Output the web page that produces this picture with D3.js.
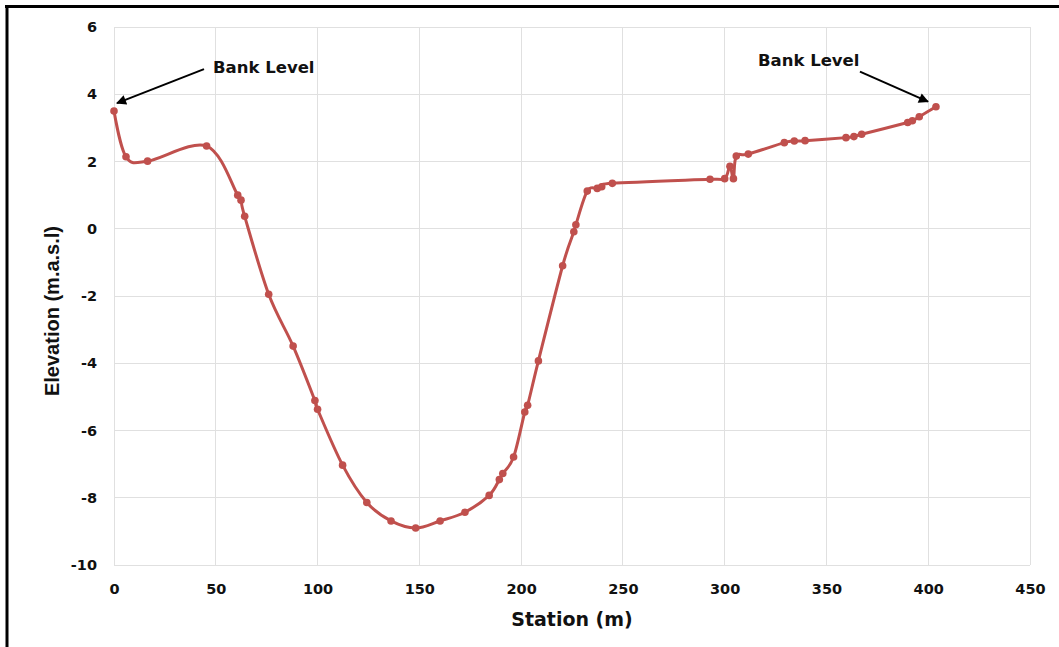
<!DOCTYPE html>
<html>
<head>
<meta charset="utf-8">
<script src="https://cdn.jsdelivr.net/npm/d3@7"></script>
<style>
  html, body { margin: 0; padding: 0; background: #fff; }
  svg { display: block; }
</style>
</head>
<body>
<script>
// ---- data ----
const station = [0, 5.9, 16.5, 45.5, 60.8, 62.4, 64.2, 76.0, 88.0, 98.7, 100.0, 112.3, 124.2, 136.1,
  148.2, 160.2, 172.4, 184.3, 189.3, 191.0, 196.3, 201.8, 203.2, 208.5, 220.4, 225.9, 226.9, 232.5,
  237.4, 239.6, 244.8, 292.8, 300.0, 302.6, 304.3, 305.7, 311.6, 329.3, 334.2, 339.5, 359.6, 363.5,
  367.3, 389.9, 392.2, 395.6, 403.8];
const elevation = [3.5, 2.14, 2.01, 2.46, 1.0, 0.85, 0.37, -1.95, -3.49, -5.11, -5.37, -7.03, -8.14, -8.69,
  -8.9, -8.69, -8.43, -7.93, -7.46, -7.28, -6.79, -5.45, -5.25, -3.93, -1.10, -0.09, 0.12, 1.12,
  1.20, 1.25, 1.35, 1.47, 1.49, 1.86, 1.49, 2.16, 2.22, 2.56, 2.61, 2.62, 2.71, 2.74,
  2.81, 3.16, 3.21, 3.33, 3.63];
const xTicks = [0, 50, 100, 150, 200, 250, 300, 350, 400, 450];
const yTicks = [-10, -8, -6, -4, -2, 0, 2, 4, 6];
const xTitle = "Station (m)";
const yTitle = "Elevation (m.a.s.l)";
const annotationText = ["Bank Level", "Bank Level"];

// ---- layout ----
const W = 1059, H = 647;
const m = { left: 114, top: 27, right: 1030, bottom: 565 };
const red = "#c0504d";

const svg = d3.select("body").append("svg").attr("width", W).attr("height", H);
svg.append("rect").attr("width", W).attr("height", H).attr("fill", "#fff");

const x = d3.scaleLinear().domain([0, 450]).range([m.left, m.right]);
const y = d3.scaleLinear().domain([-10, 6]).range([m.bottom, m.top]);

// gridlines
const grid = svg.append("g");
grid.selectAll("line.v").data(xTicks).enter().append("line")
  .attr("x1", d => x(d)).attr("x2", d => x(d)).attr("y1", m.top).attr("y2", m.bottom)
  .attr("stroke", "#e0e0e0").attr("stroke-width", 1).attr("shape-rendering", "crispEdges");
grid.selectAll("line.h").data(yTicks).enter().append("line")
  .attr("x1", m.left).attr("x2", m.right).attr("y1", d => y(d)).attr("y2", d => y(d))
  .attr("stroke", "#e0e0e0").attr("stroke-width", 1).attr("shape-rendering", "crispEdges");

// axes (labels only)
const tickFont = "'DejaVu Sans', sans-serif";
const xAxis = svg.append("g").attr("transform", `translate(0,${m.bottom})`)
  .call(d3.axisBottom(x).tickValues(xTicks).tickSize(0).tickPadding(19).tickFormat(d3.format("d")));
const yAxis = svg.append("g").attr("transform", `translate(${m.left},0)`)
  .call(d3.axisLeft(y).tickValues(yTicks).tickSize(0).tickPadding(17).tickFormat(d => d < 0 ? "-" + Math.abs(d) : String(d)));
[xAxis, yAxis].forEach(a => {
  a.select(".domain").remove();
  a.selectAll("text").attr("font-family", tickFont).attr("font-weight", "bold")
    .attr("font-size", 14.5).attr("fill", "#111");
});

// titles
svg.append("text").attr("x", (m.left + m.right) / 2).attr("y", 626)
  .attr("text-anchor", "middle").attr("font-family", "'DejaVu Sans', sans-serif")
  .attr("font-weight", "bold").attr("font-size", 19).attr("fill", "#111").text(xTitle);
svg.append("text").attr("transform", "translate(59,311) rotate(-90)")
  .attr("text-anchor", "middle").attr("font-family", "'Liberation Sans', Arial, sans-serif")
  .attr("font-weight", "bold").attr("font-size", 20).attr("fill", "#111").text(yTitle);

// data line
const pts = station.map((s, i) => [s, elevation[i]]);
const line = d3.line().x(d => x(d[0])).y(d => y(d[1])).curve(d3.curveCardinal.tension(0));
svg.append("path").datum(pts).attr("d", line).attr("fill", "none")
  .attr("stroke", red).attr("stroke-width", 3).attr("stroke-linejoin", "round");
svg.selectAll("circle.pt").data(pts).enter().append("circle")
  .attr("cx", d => x(d[0])).attr("cy", d => y(d[1])).attr("r", 3.8).attr("fill", red);

// annotations with arrows
const defs = svg.append("defs");
defs.append("marker").attr("id", "arrow").attr("viewBox", "0 0 10 10")
  .attr("refX", 9).attr("refY", 5).attr("markerWidth", 5.5).attr("markerHeight", 5)
  .attr("orient", "auto").attr("markerUnits", "strokeWidth")
  .append("path").attr("d", "M0,0 L10,5 L0,10 z").attr("fill", "#000");

const first = pts[0], last = pts[pts.length - 1];
// left annotation
const lx = x(first[0]), ly = y(first[1]);
svg.append("line").attr("x1", lx + 90).attr("y1", ly - 42).attr("x2", lx + 3).attr("y2", ly - 8)
  .attr("stroke", "#000").attr("stroke-width", 2).attr("marker-end", "url(#arrow)");
svg.append("text").attr("x", lx + 99).attr("y", ly - 38)
  .attr("font-family", "'DejaVu Sans', sans-serif").attr("font-weight", "bold")
  .attr("font-size", 16.5).attr("fill", "#111").text(annotationText[0]);
// right annotation
const rx = x(last[0]), ry = y(last[1]);
svg.append("line").attr("x1", rx - 76).attr("y1", ry - 35).attr("x2", rx - 8).attr("y2", ry - 5)
  .attr("stroke", "#000").attr("stroke-width", 2).attr("marker-end", "url(#arrow)");
svg.append("text").attr("x", rx - 178).attr("y", ry - 41)
  .attr("font-family", "'DejaVu Sans', sans-serif").attr("font-weight", "bold")
  .attr("font-size", 16.5).attr("fill", "#111").text(annotationText[1]);

// outer frame (top and left borders)
svg.append("line").attr("x1", 5).attr("x2", W).attr("y1", 6.5).attr("y2", 6.5)
  .attr("stroke", "#000").attr("stroke-width", 3);
svg.append("line").attr("x1", 7).attr("x2", 7).attr("y1", 5).attr("y2", H)
  .attr("stroke", "#000").attr("stroke-width", 3);
</script>
</body>
</html>
